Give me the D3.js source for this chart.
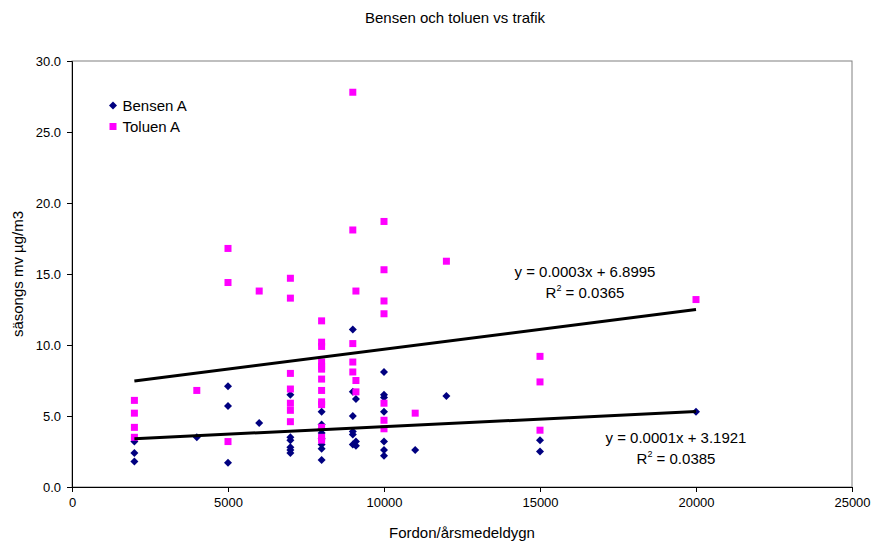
<!DOCTYPE html>
<html>
<head>
<meta charset="utf-8">
<script src="https://cdn.jsdelivr.net/npm/d3@7"></script>
<style>
  html, body { margin: 0; padding: 0; background: #fff; }
  svg { display: block; font-family: "Liberation Sans", Arial, sans-serif; }
</style>
</head>
<body>
<svg id="chart" width="874" height="543"></svg>
<script>
// Traffic (vehicles per average day) and seasonal mean concentration (µg/m3)
const bensenPoints = [
  [2000, 3.2], [2000, 2.4], [2000, 1.8],
  [4000, 3.5],
  [5000, 7.1], [5000, 5.7], [5000, 1.7],
  [6000, 4.5],
  [7000, 6.5], [7000, 3.5], [7000, 3.3], [7000, 2.8], [7000, 2.6], [7000, 2.4],
  [8000, 5.3], [8000, 4.4], [8000, 4.1], [8000, 3.8], [8000, 3.4], [8000, 3.0], [8000, 2.7], [8000, 1.9],
  [9000, 11.1], [9000, 6.7], [9000, 5.0], [9000, 3.9], [9000, 3.7], [9000, 3.0],
  [9100, 6.2], [9100, 3.2], [9100, 2.9],
  [10000, 8.1], [10000, 6.5], [10000, 6.3], [10000, 5.3], [10000, 3.2], [10000, 2.6], [10000, 2.2],
  [11000, 2.6],
  [12000, 6.4],
  [15000, 3.3], [15000, 2.5],
  [20000, 5.3]
];

const toluenPoints = [
  [2000, 6.1], [2000, 5.2], [2000, 4.2], [2000, 3.5],
  [4000, 6.8],
  [5000, 16.8], [5000, 14.4], [5000, 3.2],
  [6000, 13.8],
  [7000, 14.7], [7000, 13.3], [7000, 8.0], [7000, 6.9], [7000, 5.9], [7000, 5.4], [7000, 4.6],
  [8000, 11.7], [8000, 10.2], [8000, 9.9], [8000, 8.8], [8000, 8.5], [8000, 8.3], [8000, 7.6],
  [8000, 6.8], [8000, 6.0], [8000, 5.8], [8000, 4.2], [8000, 3.5], [8000, 3.3],
  [9000, 27.8], [9000, 18.1], [9000, 10.1], [9000, 8.8], [9000, 8.1],
  [9100, 13.8], [9100, 7.5], [9100, 6.7],
  [10000, 18.7], [10000, 15.3], [10000, 13.1], [10000, 12.2], [10000, 5.9], [10000, 4.7], [10000, 4.1],
  [11000, 5.2],
  [12000, 15.9],
  [15000, 9.2], [15000, 7.4], [15000, 4.0],
  [20000, 13.2]
];

const seriesNames = ["Bensen A", "Toluen A"];
// Linear trend coefficients (Bensen, Toluen)
const trendSlopes = [0.000106, 0.00028];
const trendIntercepts = [3.1921, 6.8995];
const trendR2 = [0.0385, 0.0365];

const xTicks = [0, 5000, 10000, 15000, 20000, 25000];
const yTicks = [0, 5, 10, 15, 20, 25, 30];

const svg = d3.select("#chart");
const plotLeft = 72, plotRight = 852, plotTop = 61, plotBottom = 487;
const labelSize = 15;

const x = d3.scaleLinear().domain([0, 25000]).range([plotLeft, plotRight]);
const y = d3.scaleLinear().domain([0, 30]).range([plotBottom, plotTop]);

// Title
svg.append("text")
  .attr("x", 455).attr("y", 23)
  .attr("text-anchor", "middle")
  .attr("font-size", labelSize)
  .text("Bensen och toluen vs trafik");

// Plot area frame
svg.append("rect")
  .attr("x", plotLeft).attr("y", plotTop)
  .attr("width", plotRight - plotLeft).attr("height", plotBottom - plotTop)
  .attr("fill", "none").attr("stroke", "#808080").attr("stroke-width", 1);

// Axes
const xAxis = svg.append("g")
  .attr("transform", `translate(0,${plotBottom})`)
  .call(d3.axisBottom(x).tickValues(xTicks).tickSize(5).tickPadding(6).tickFormat(d3.format("d")));
const yAxis = svg.append("g")
  .attr("transform", `translate(${plotLeft},0)`)
  .call(d3.axisLeft(y).tickValues(yTicks).tickSize(5).tickPadding(6).tickFormat(d3.format(".1f")));

[xAxis, yAxis].forEach(g => {
  g.select(".domain").attr("stroke", "#000");
  g.selectAll(".tick line").attr("stroke", "#000");
  g.selectAll(".tick text")
    .attr("font-family", "Liberation Sans, Arial, sans-serif")
    .attr("font-size", 13).attr("fill", "#000");
});

// Axis titles
svg.append("text")
  .attr("x", (plotLeft + plotRight) / 2).attr("y", 538)
  .attr("text-anchor", "middle").attr("font-size", labelSize)
  .text("Fordon/årsmedeldygn");
svg.append("text")
  .attr("transform", `translate(23,${(plotTop + plotBottom) / 2}) rotate(-90)`)
  .attr("text-anchor", "middle").attr("font-size", labelSize)
  .text("säsongs mv µg/m3");

// Marker shapes
const diamond = (cx, cy, r) => `M${cx},${cy - r}L${cx + r},${cy}L${cx},${cy + r}L${cx - r},${cy}Z`;
const colors = ["#000080", "#FF00FF"];

svg.append("g").selectAll("path")
  .data(bensenPoints).join("path")
  .attr("d", d => diamond(x(d[0]), y(d[1]), 4))
  .attr("fill", colors[0]);

svg.append("g").selectAll("rect")
  .data(toluenPoints).join("rect")
  .attr("x", d => x(d[0]) - 3.5).attr("y", d => y(d[1]) - 3.5)
  .attr("width", 7).attr("height", 7)
  .attr("fill", colors[1]);

// Trend lines across each series' traffic range
const seriesData = [bensenPoints, toluenPoints];
seriesData.forEach((pts, i) => {
  const [x0, x1] = d3.extent(pts, d => d[0]);
  const f = v => trendSlopes[i] * v + trendIntercepts[i];
  svg.append("line")
    .attr("x1", x(x0)).attr("y1", y(f(x0)))
    .attr("x2", x(x1)).attr("y2", y(f(x1)))
    .attr("stroke", "#000").attr("stroke-width", 3);
});

// Trend equations
const eqPos = [[676, 443, 464], [585, 277, 298]];
seriesData.forEach((pts, i) => {
  const g = svg.append("g").attr("font-size", labelSize);
  g.append("text")
    .attr("x", eqPos[i][0]).attr("y", eqPos[i][1])
    .attr("text-anchor", "middle")
    .text(`y = ${trendSlopes[i].toFixed(4)}x + ${trendIntercepts[i].toFixed(4)}`);
  const t = g.append("text")
    .attr("x", eqPos[i][0]).attr("y", eqPos[i][2])
    .attr("text-anchor", "middle");
  t.append("tspan").text("R");
  t.append("tspan").attr("font-size", 9).attr("dy", -7).text("2");
  t.append("tspan").attr("dy", 7).text(` = ${trendR2[i].toFixed(4)}`);
});

// Legend
const legend = svg.append("g").attr("font-size", labelSize);
seriesNames.forEach((name, i) => {
  const cy = 105.5 + i * 21;
  if (i === 0) {
    legend.append("path").attr("d", diamond(113, cy, 4)).attr("fill", colors[0]);
  } else {
    legend.append("rect").attr("x", 109.5).attr("y", cy - 3.5)
      .attr("width", 7).attr("height", 7).attr("fill", colors[1]);
  }
  legend.append("text").attr("x", 122.5).attr("y", cy + 5.5).text(name);
});
</script>
</body>
</html>
